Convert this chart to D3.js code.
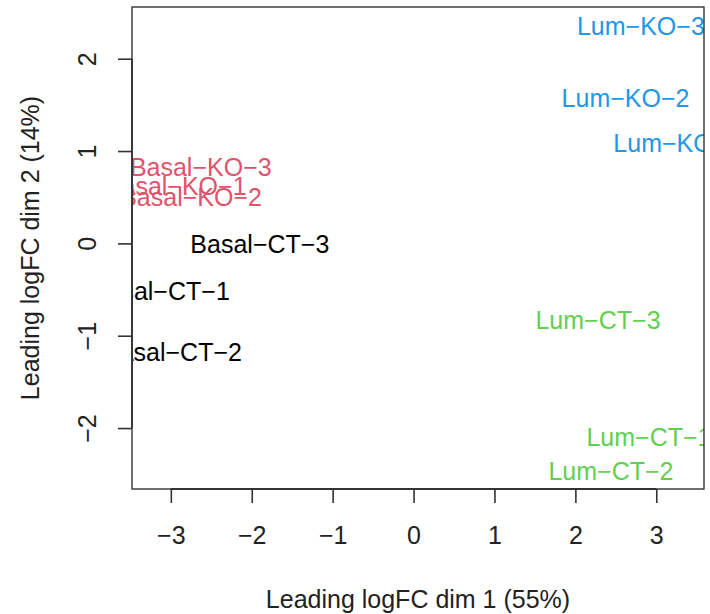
<!DOCTYPE html>
<html>
<head>
<meta charset="utf-8">
<script src="https://cdn.jsdelivr.net/npm/d3@7/dist/d3.min.js"></script>
<style>
  html, body { margin: 0; padding: 0; background: #fff; }
  svg { display: block; }
  text { font-family: "Liberation Sans", Arial, Helvetica, sans-serif; }
</style>
</head>
<body>
<svg id="mds" width="710" height="614"></svg>
<script>
// MDS plot of samples: leading logFC dimensions 1 and 2
const samples = ["Basal-CT-1", "Basal-CT-2", "Basal-CT-3",
                 "Basal-KO-1", "Basal-KO-2", "Basal-KO-3",
                 "Lum-CT-1", "Lum-CT-2", "Lum-CT-3",
                 "Lum-KO-1", "Lum-KO-2", "Lum-KO-3"];
const groups = ["Basal-CT", "Basal-CT", "Basal-CT",
                "Basal-KO", "Basal-KO", "Basal-KO",
                "Lum-CT", "Lum-CT", "Lum-CT",
                "Lum-KO", "Lum-KO", "Lum-KO"];
const dim1 = [-3.13, -2.98, -1.90, -2.94, -2.75, -2.63, 2.91, 2.44, 2.28, 3.26, 2.62, 2.81];
const dim2 = [-0.52, -1.175, -0.01, 0.62, 0.50, 0.83, -2.095, -2.47, -0.83, 1.085, 1.575, 2.35];

const groupNames = ["Basal-CT", "Basal-KO", "Lum-CT", "Lum-KO"];
const groupColors = ["#000000", "#DF536B", "#61D04F", "#2297E6"];

const xLimits = [-3.48, 3.59];
const yLimits = [-2.66, 2.56];
const xTicks = [-3, -2, -1, 0, 1, 2, 3];
const yTicks = [-2, -1, 0, 1, 2];
const xTitle = "Leading logFC dim 1 (55%)";
const yTitle = "Leading logFC dim 2 (14%)";

const box = { left: 132, right: 704, top: 7, bottom: 489 };
const fontSize = 25;
const ink = "#222";

const svg = d3.select("#mds");
const x = d3.scaleLinear().domain(xLimits).range([box.left, box.right]);
const y = d3.scaleLinear().domain(yLimits).range([box.bottom, box.top]);
const color = d3.scaleOrdinal().domain(groupNames).range(groupColors);

// sample labels, clipped to the plotting region
svg.append("clipPath").attr("id", "plotClip")
  .append("rect")
  .attr("x", box.left).attr("y", box.top)
  .attr("width", box.right - box.left).attr("height", box.bottom - box.top);

const pts = samples.map((s, i) => ({ name: s.replace(/-/g, "\u2212"), g: groups[i], d1: dim1[i], d2: dim2[i] }));

svg.append("g").attr("clip-path", "url(#plotClip)")
  .selectAll("text").data(pts).join("text")
  .attr("x", d => x(d.d1))
  .attr("y", d => y(d.d2))
  .attr("dy", "0.358em")
  .attr("text-anchor", "middle")
  .attr("font-size", fontSize)
  .attr("fill", d => color(d.g))
  .text(d => d.name);

// frame
svg.append("rect")
  .attr("x", box.left).attr("y", box.top)
  .attr("width", box.right - box.left).attr("height", box.bottom - box.top)
  .attr("fill", "none").attr("stroke", "#333").attr("stroke-width", 1.4);

// bottom axis
const xAxis = svg.append("g")
  .attr("transform", `translate(0,${box.bottom})`)
  .call(d3.axisBottom(x).tickValues(xTicks).tickSize(14).tickPadding(0).tickFormat(d3.format("d")));
xAxis.select(".domain").remove();
xAxis.selectAll(".tick line").attr("stroke", "#333").attr("stroke-width", 1.6);
xAxis.selectAll(".tick text")
  .attr("y", 0).attr("dy", null)
  .attr("transform", "translate(0,55)")
  .attr("font-size", fontSize).attr("fill", ink)
  .attr("font-family", "Liberation Sans, Arial, sans-serif");
xAxis.append("line")
  .attr("x1", x(xTicks[0])).attr("x2", x(xTicks[xTicks.length - 1]))
  .attr("stroke", "#333").attr("stroke-width", 1.8);

// left axis
const yAxis = svg.append("g")
  .attr("transform", `translate(${box.left},0)`)
  .call(d3.axisLeft(y).tickValues(yTicks).tickSize(14).tickPadding(0).tickFormat(d3.format("d")));
yAxis.select(".domain").remove();
yAxis.selectAll(".tick line").attr("stroke", "#333").attr("stroke-width", 1.6);
yAxis.selectAll(".tick text")
  .attr("x", null).attr("dy", null)
  .attr("text-anchor", "middle")
  .attr("transform", "translate(-36,0) rotate(-90)")
  .attr("font-size", fontSize).attr("fill", ink)
  .attr("font-family", "Liberation Sans, Arial, sans-serif");
yAxis.append("line")
  .attr("y1", y(yTicks[0])).attr("y2", y(yTicks[yTicks.length - 1]))
  .attr("stroke", "#333").attr("stroke-width", 1.8);

// axis titles
svg.append("text")
  .attr("x", (box.left + box.right) / 2).attr("y", 608)
  .attr("text-anchor", "middle")
  .attr("font-size", fontSize).attr("fill", ink)
  .text(xTitle);

svg.append("text")
  .attr("transform", `translate(39,${(box.top + box.bottom) / 2}) rotate(-90)`)
  .attr("text-anchor", "middle")
  .attr("font-size", fontSize).attr("fill", ink)
  .text(yTitle);
</script>
</body>
</html>
